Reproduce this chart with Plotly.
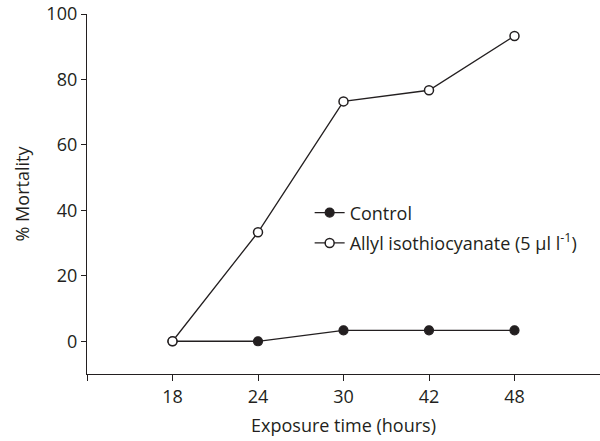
import plotly.graph_objects as go

times = ["18", "24", "30", "42", "48"]
control = [0, 0, 3.33, 3.33, 3.33]
aitc = [0, 33.3, 73.3, 76.7, 93.3]
y_ticks = [0, 20, 40, 60, 80, 100]

ink = "#231f20"
font_family = "Open Sans, Liberation Sans, Arial, sans-serif"
fs = 18
xpos = list(range(len(times)))

fig = go.Figure()
fig.add_trace(go.Scatter(
    x=xpos, y=control, mode="lines+markers", name="Control", legendgroup="c",
    line=dict(color=ink, width=1.3),
    marker=dict(symbol="circle", size=9, color=ink, line=dict(color=ink, width=1.2)),
))
fig.add_trace(go.Scatter(
    x=xpos, y=aitc, mode="lines+markers", legendgroup="a",
    name="Allyl isothiocyanate (5 µl l<sup>-1</sup>)",
    line=dict(color=ink, width=1.3),
    marker=dict(symbol="circle", size=9, color="white", line=dict(color=ink, width=1.5)),
))

fig.update_layout(
    width=600, height=441,
    margin=dict(l=87, r=0, t=14, b=67),
    paper_bgcolor="white", plot_bgcolor="white",
    font=dict(family=font_family, size=fs, color=ink),
    showlegend=True,
    legend=dict(x=0.434, y=0.406, xanchor="left", yanchor="middle",
                bgcolor="rgba(0,0,0,0)", font=dict(size=fs, color=ink),
                tracegroupgap=4),
)
fig.update_xaxes(
    range=[-1, 5], tickmode="array",
    tickvals=[-1] + xpos, ticktext=[""] + times,
    showline=True, linecolor=ink, linewidth=1.3,
    ticks="outside", ticklen=6, tickcolor=ink, tickwidth=1.3,
    showgrid=False, zeroline=False,
    tickfont=dict(size=fs, color=ink),
    title=dict(text="Exposure time (hours)", font=dict(size=fs, color=ink), standoff=12),
)
fig.update_yaxes(
    range=[-10, 100], tickmode="array", tickvals=y_ticks,
    showline=True, linecolor=ink, linewidth=1.3,
    ticks="outside", ticklen=5, tickcolor=ink, tickwidth=1.3,
    showgrid=False, zeroline=False,
    tickfont=dict(size=fs, color=ink),
    title=dict(text="% Mortality", font=dict(size=fs, color=ink), standoff=12),
)

fig.write_html("out.html", config={"displayModeBar": False},
               post_script="document.body.style.margin='0';")
